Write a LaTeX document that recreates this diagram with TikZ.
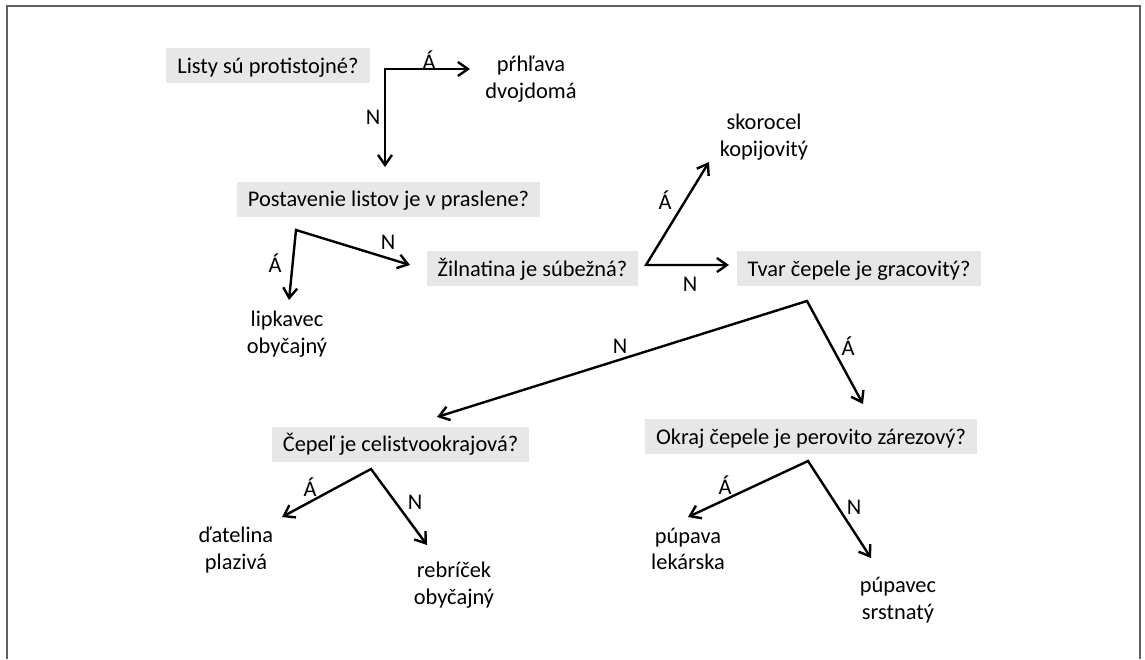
\documentclass[tikz,border=0pt]{standalone}
\usepackage{fontspec}
\setmainfont{Carlito}
\usetikzlibrary{calc,arrows.meta,positioning}
\definecolor{mygray}{RGB}{231,231,231}
\definecolor{myframe}{RGB}{95,95,95}

\begin{document}
\begin{tikzpicture}[
  x=0.5pt,
  y=-0.5pt,
  font=\fontsize{11.2}{13.3}\selectfont,
  myquestion/.style={
    fill=mygray,
    inner xsep=5.5pt,
    inner ysep=5pt,
    text height=7.5pt,
    text depth=0pt
    },
  myanswer/.style={
    align=center,
    inner sep=0pt
    },
  mylabel/.style={
    inner sep=0pt
    },
  myfork/.style={
    line width=1.2pt,
    line join=miter,
    {Straight Barb[length=5pt,width=7pt]}-{Straight Barb[length=5pt,width=7pt]}
  }
]
\useasboundingbox (0,0) rectangle (1145,659);
\draw[myframe, line width=1pt] (7,659) -- (7,6) -- (1140,6) -- (1140,659);

% questions
\node[myquestion] (q1) at (268,65.5) {Listy sú protistojné?};
\node[myquestion] (q2) at (388.5,199) {Postavenie listov je v praslene?};
\node[myquestion] (q3) at (532.5,268.5) {Žilnatina je súbežná?};
\node[myquestion] (q4) at (859,268.5) {Tvar čepele je gracovitý?};
\node[myquestion] (q5) at (400.5,444) {Čepeľ je celistvookrajová?};
\node[myquestion] (q6) at (811,436.5) {Okraj čepele je perovito zárezový?};

% answers
\node[myanswer] (a1) at (531,79) {pŕhľava\\dvojdomá};
\node[myanswer] (a2) at (287,334) {lipkavec\\obyčajný};
\node[myanswer] (a3) at (764,137) {skorocel\\kopijovitý};
\node[myanswer] (a4) at (236,550) {ďatelina\\plazivá};
\node[myanswer] (a5) at (454,585) {rebríček\\obyčajný};
\node[myanswer] (a6) at (688,549) {púpava\\lekárska};
\node[myanswer] (a7) at (898,600) {púpavec\\srstnatý};

% forks
\coordinate (b1) at (385,69);    \coordinate (ya1) at (470,69);    \coordinate (yn1) at (385,167);
\coordinate (b2) at (296,230);   \coordinate (ya2) at (289,300);   \coordinate (yn2) at (410,265);
\coordinate (b3) at (646,265);   \coordinate (ya3) at (709,162);   \coordinate (yn3) at (729,265);
\coordinate (b4) at (807,301);   \coordinate (ya4) at (863,404);   \coordinate (yn4) at (437,417);
\coordinate (b5) at (371,469);   \coordinate (ya5) at (282,517);   \coordinate (yn5) at (427,545);
\coordinate (b6) at (808,461);   \coordinate (ya6) at (688,517);   \coordinate (yn6) at (871,558);

\foreach \Fork in {1,...,6}
  \draw[myfork] (ya\Fork) -- (b\Fork) -- (yn\Fork);

\foreach \Fork/\Ax/\Ay/\Nx/\Ny in {1/429/60/373/117, 2/275/263/388/242, 3/665/200/690/284, 4/848/346/620/346, 5/310/487/415/502, 6/725/485/854/507}
  {
  \node[mylabel] (la\Fork) at (\Ax,\Ay) {Á};
  \node[mylabel] (ln\Fork) at (\Nx,\Ny) {N};
  }

\end{tikzpicture}
\end{document}
